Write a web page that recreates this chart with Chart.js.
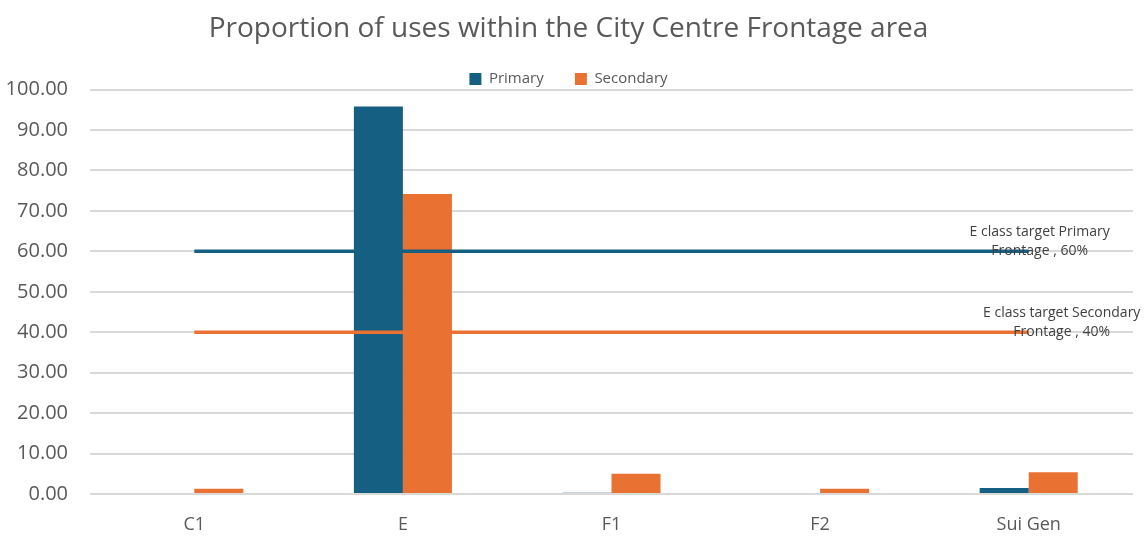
<!DOCTYPE html>
<html>
<head>
<meta charset="utf-8">
<script src="https://cdn.jsdelivr.net/npm/chart.js@4/dist/chart.umd.min.js"></script>
<style>
  html, body { margin: 0; padding: 0; background: #fff; overflow: hidden; }
  #wrap { width: 1144px; height: 538px; }
</style>
</head>
<body>
<div id="wrap"><canvas id="chart"></canvas></div>
<script>
// values
const categories = ['C1', 'E', 'F1', 'F2', 'Sui Gen'];
const primary = [0, 95.8, 0.3, 0, 1.5];
const secondary = [1.3, 74.2, 5.0, 1.3, 5.4];
const primaryTarget = [60, 60, 60, 60, 60];
const secondaryTarget = [40, 40, 40, 40, 40];
const targetLabels = [
    ['E class target Primary', 'Frontage , 60%'],
    ['E class target Secondary', 'Frontage , 40%'],
];

const blue = '#156082';
const orange = '#E97132';
const grey = '#595959';

// writes the target label next to the last point of each line
const endLabels = {
    id: 'endLabels',
    afterDatasetsDraw(chart) {
        const ctx = chart.ctx;
        ctx.save();
        ctx.font = '14px "Liberation Sans Narrow", "Open Sans", sans-serif';
        ctx.fillStyle = '#404040';
        ctx.textAlign = 'center';
        ctx.textBaseline = 'middle';
        const shifts = [11, 33];
        [2, 3].forEach((dsIndex, i) => {
            const pts = chart.getDatasetMeta(dsIndex).data;
            const last = pts[pts.length - 1];
            const lines = targetLabels[i];
            ctx.fillText(lines[0], last.x + shifts[i], last.y - 19);
            ctx.fillText(lines[1], last.x + shifts[i], last.y);
        });
        ctx.restore();
    }
}

// legend sits right on top of the plot, a bit lower than chart.js puts it
const legendDown = {
    id: 'legendDown',
    afterLayout(chart) {
        chart.legend.top += 7;
        chart.legend.bottom += 7;
    }
}

new Chart(document.getElementById('chart'), {
    type: 'bar',
    data: {
        labels: categories,
        datasets: [
            {
                label: 'Primary',
                data: primary,
                backgroundColor: blue,
                categoryPercentage: 0.47,
                barPercentage: 1.0,
                order: 2,
            },
            {
                label: 'Secondary',
                data: secondary,
                backgroundColor: orange,
                categoryPercentage: 0.47,
                barPercentage: 1.0,
                order: 2,
            },
            {
                type: 'line',
                label: 'E class target Primary Frontage',
                data: primaryTarget,
                borderColor: blue,
                borderWidth: 3.5,
                pointRadius: 0,
                order: 1,
            },
            {
                type: 'line',
                label: 'E class target Secondary Frontage',
                data: secondaryTarget,
                borderColor: orange,
                borderWidth: 3.5,
                pointRadius: 0,
                order: 1,
            },
        ],
    },
    options: {
        responsive: true,
        maintainAspectRatio: false,
        animation: false,
        layout: { padding: { left: 4, right: 11, top: 12, bottom: 0 } },
        plugins: {
            title: {
                display: true,
                text: 'Proportion of uses within the City Centre Frontage area',
                color: grey,
                font: { family: '"Open Sans", sans-serif', size: 28, weight: 'normal' },
                padding: { top: 0, bottom: 19 },
            },
            legend: {
                position: 'top',
                labels: {
                    filter: (item) => item.datasetIndex < 2,
                    generateLabels: (chart) => {
                        const items = Chart.defaults.plugins.legend.labels.generateLabels(chart);
                        items.forEach(it => { if (it.datasetIndex === 0) it.text = it.text + '        '; });
                        return items;
                    },
                    color: grey,
                    font: { family: '"Open Sans", sans-serif', size: 15 },
                    boxWidth: 12,
                    boxHeight: 12,
                    padding: 0,
                },
            },
            tooltip: { enabled: false },
        },
        scales: {
            x: {
                grid: { display: false },
                border: { display: false },
                afterFit: (scale) => { scale.height = 44; },
                ticks: {
                    color: grey,
                    font: { family: '"Open Sans", sans-serif', size: 18 },
                    padding: 12,
                },
            },
            y: {
                min: 0,
                max: 100,
                afterFit: (scale) => { scale.width = 86; },
                ticks: {
                    stepSize: 10,
                    color: grey,
                    font: { family: '"Open Sans", sans-serif', size: 20 },
                    padding: 22,
                    callback: (v) => v.toFixed(2),
                },
                grid: { color: '#d9d9d9', lineWidth: 2, drawTicks: false },
                border: { display: false },
            },
        },
    },
    plugins: [endLabels, legendDown],
})
</script>
</body>
</html>
